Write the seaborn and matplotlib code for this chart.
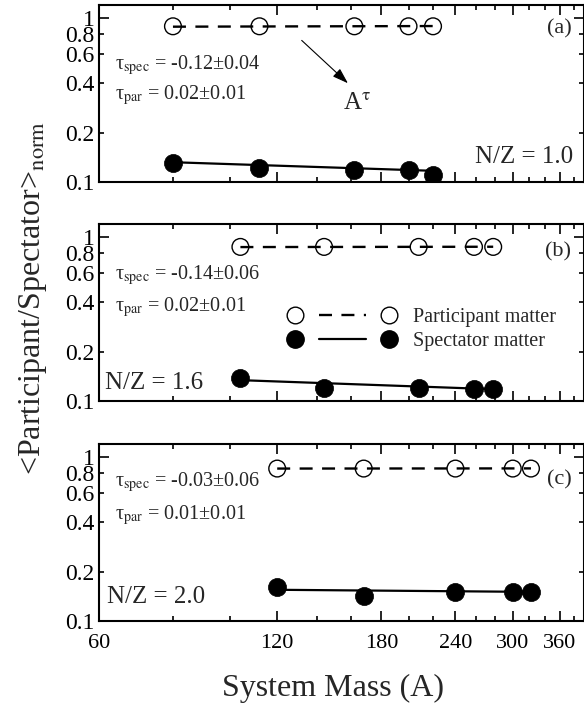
import matplotlib
matplotlib.use("Agg")
import matplotlib.pyplot as plt
from matplotlib.ticker import FixedLocator, FixedFormatter, NullFormatter
from matplotlib.lines import Line2D
from matplotlib.legend_handler import HandlerTuple
import seaborn as sns
import pandas as pd

# ---------------- data ----------------
mass_a = [80, 112, 162, 200, 220]
part_a = [0.89, 0.89, 0.89, 0.89, 0.89]
spec_a = [0.130, 0.121, 0.119, 0.119, 0.111]
fit_x_a = [80, 220]
spec_fit_a = [0.132, 0.117]
part_fit_a = [0.885, 0.893]

mass_b = [104, 144, 208, 258, 278]
part_b = [0.87, 0.87, 0.87, 0.87, 0.87]
spec_b = [0.139, 0.120, 0.120, 0.118, 0.119]
fit_x_b = [104, 278]
spec_fit_b = [0.134, 0.118]
part_fit_b = [0.868, 0.872]

mass_c = [120, 168, 240, 300, 322]
part_c = [0.85, 0.85, 0.85, 0.85, 0.85]
spec_c = [0.161, 0.142, 0.151, 0.150, 0.150]
fit_x_c = [120, 322]
spec_fit_c = [0.155, 0.1505]
part_fit_c = [0.850, 0.852]

panel_tags = ["(a)", "(b)", "(c)"]
nz_labels = ["N/Z = 1.0", "N/Z = 1.6", "N/Z = 2.0"]
tau_spec = ["-0.12\u00b10.04", "-0.14\u00b10.06", "-0.03\u00b10.06"]
tau_par = ["0.02\u00b10.01", "0.02\u00b10.01", "0.01\u00b10.01"]

x_major = [60, 120, 180, 240, 300, 360]
x_minor = [80, 100, 140, 160, 200, 220, 260, 280, 320, 340, 380]
y_major = [0.1, 1.0]
y_major_lab = ["0.1", "1"]
y_minor = [0.2, 0.4, 0.6, 0.8]
y_minor_lab = ["0.2", "0.4", "0.6", "0.8"]

legend_labels = ["Participant matter", "Spectator matter"]

# ---------------- style ----------------
sns.set_theme(style="ticks")
plt.rcParams["font.family"] = ["Liberation Serif", "DejaVu Serif"]
plt.rcParams["mathtext.fontset"] = "stix"
plt.rcParams["axes.linewidth"] = 1.5

fig = plt.figure(figsize=(5.84, 7.07), dpi=100)
H = 707.0
W = 584.0
left = 99 / W
width = (583.5 - 99) / W
tops = [5, 224, 444]
bottoms = [182, 401, 621]

panels = [
    (mass_a, part_a, spec_a, fit_x_a, part_fit_a, spec_fit_a),
    (mass_b, part_b, spec_b, fit_x_b, part_fit_b, spec_fit_b),
    (mass_c, part_c, spec_c, fit_x_c, part_fit_c, spec_fit_c),
]

tau_y = [(0.66, 0.49), (0.71, 0.53), (0.785, 0.60)]
tag_y = [0.865, 0.84, 0.80]
nz_pos = [(0.978, 0.14, "right"), (0.012, 0.10, "left"), (0.016, 0.135, "left")]

axes = []
for i, (mass, part, spec, fx, pfit, sfit) in enumerate(panels):
    ax = fig.add_axes([left, 1 - bottoms[i] / H, width, (bottoms[i] - tops[i]) / H])
    axes.append(ax)
    ax.set_xscale("log")
    ax.set_yscale("log")

    df_pts = pd.DataFrame({"A": mass, "part": part, "spec": spec})
    df_fit = pd.DataFrame({"A": fx, "part": pfit, "spec": sfit})

    sns.lineplot(data=df_fit, x="A", y="part", ax=ax, color="black", lw=1.7,
                 zorder=2).lines[-1].set_dashes((5.5, 4))
    sns.lineplot(data=df_fit, x="A", y="spec", ax=ax, color="black", lw=1.6, zorder=2)
    sns.scatterplot(data=df_pts, x="A", y="part", ax=ax, s=145, marker="o",
                    facecolor="none", edgecolor="black", linewidth=1.0, zorder=3)
    sns.scatterplot(data=df_pts, x="A", y="spec", ax=ax, s=170, marker="o",
                    color="black", edgecolor="black", linewidth=0.5, zorder=3)

    ax.set_xlim(60, 395)
    ax.set_ylim(0.1, 1.2)
    ax.set_xlabel("")
    ax.set_ylabel("")

    ax.xaxis.set_major_locator(FixedLocator(x_major))
    ax.xaxis.set_minor_locator(FixedLocator(x_minor))
    ax.xaxis.set_minor_formatter(NullFormatter())
    if i == 2:
        ax.xaxis.set_major_formatter(FixedFormatter([str(v) for v in x_major]))
    else:
        ax.xaxis.set_major_formatter(NullFormatter())
    ax.yaxis.set_major_locator(FixedLocator(y_major))
    ax.yaxis.set_major_formatter(FixedFormatter(y_major_lab))
    ax.yaxis.set_minor_locator(FixedLocator(y_minor))
    ax.yaxis.set_minor_formatter(FixedFormatter(y_minor_lab))

    ax.tick_params(which="both", direction="in", top=True, right=True,
                   colors="black")
    ax.tick_params(axis="x", which="both", labelsize=16, pad=9)
    ax.tick_params(axis="y", which="both", labelsize=17, pad=3)
    ax.tick_params(which="major", length=7, width=1.2)
    ax.tick_params(which="minor", length=3.8, width=1.2)
    for sp in ax.spines.values():
        sp.set_visible(True)
        sp.set_color("black")
        sp.set_linewidth(1.5)

    ax.text(0.033, tau_y[i][0], "\u03c4$_{\\rm spec}$ = " + tau_spec[i],
            transform=ax.transAxes, fontsize=14.5, va="center", ha="left")
    ax.text(0.033, tau_y[i][1], "\u03c4$_{\\rm par}$ = " + tau_par[i],
            transform=ax.transAxes, fontsize=14.5, va="center", ha="left")
    ax.text(0.975, tag_y[i], panel_tags[i], transform=ax.transAxes,
            fontsize=16, va="center", ha="right")
    ax.text(nz_pos[i][0], nz_pos[i][1], nz_labels[i], transform=ax.transAxes,
            fontsize=18, va="center", ha=nz_pos[i][2])

# arrow and A^tau in panel (a)
axes[0].annotate("", xy=(158, 0.40), xytext=(132, 0.73),
                 arrowprops=dict(arrowstyle="-|>,head_length=0.6,head_width=0.2",
                                 color="black", lw=0.8,
                                 mutation_scale=16, shrinkA=0, shrinkB=0))
axes[0].text(164, 0.30, "A$^{\\rm \u03c4}$", fontsize=18, ha="center", va="center")

# legend in panel (b)
h_open = Line2D([], [], ls="none", marker="o", ms=12, mfc="none", mec="black", mew=1.0)
h_dash = Line2D([], [], ls=(0, (5.5, 4)), color="black", lw=1.7)
h_fill = Line2D([], [], ls="none", marker="o", ms=12.5, mfc="black", mec="black")
h_solid = Line2D([], [], ls="-", color="black", lw=1.6)
axes[1].legend([(h_open, h_dash, h_open), (h_fill, h_solid, h_fill)], legend_labels,
               handler_map={tuple: HandlerTuple(ndivide=None, pad=0)},
               loc="center left", bbox_to_anchor=(0.357, 0.404), frameon=False,
               fontsize=14.5, handlelength=7.0, handletextpad=0.0, labelspacing=0.25,
               borderpad=0, borderaxespad=0, numpoints=1)

fig.text(0.057, 0.578, r"<Participant/Spectator>$_{\rm norm}$", rotation=90,
         fontsize=23, ha="center", va="center")
fig.text(0.57, 0.026, "System Mass (A)", fontsize=23, ha="center", va="center")

fig.savefig("out.png", dpi=100)
